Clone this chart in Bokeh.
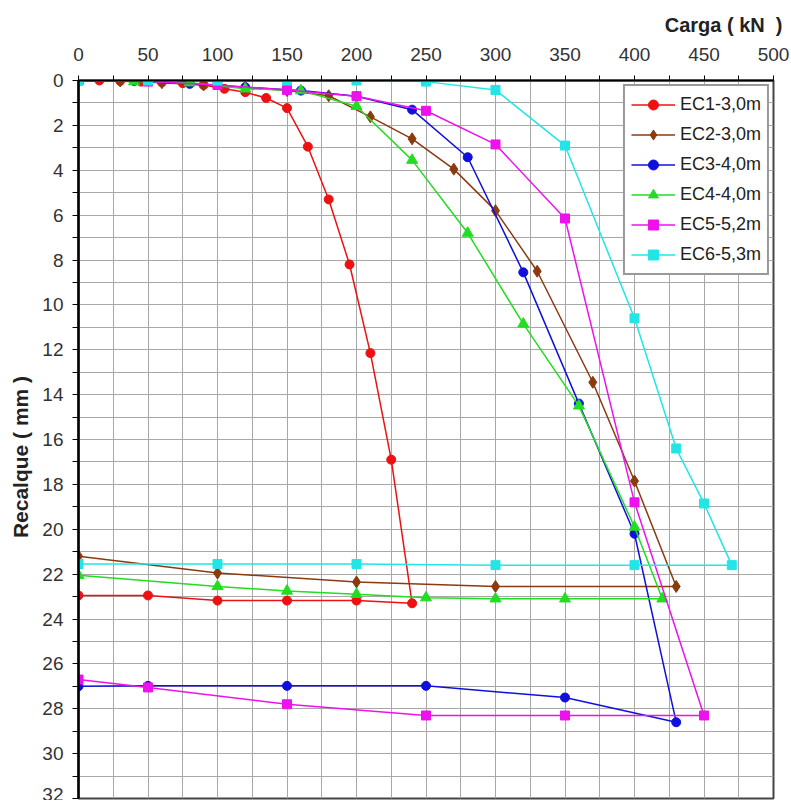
from bokeh.plotting import figure
from bokeh.models import Range1d, FixedTicker, ColumnDataSource, Legend, LegendItem, Title
from bokeh.embed import file_html
from bokeh.resources import INLINE

# ---- data (load kN, settlement mm), loading then unloading ----
ec1_load = [0, 15, 30, 45, 60, 75, 90, 105, 120, 135, 150, 165, 180, 195, 210, 225, 240, 200, 150, 100, 50, 0]
ec1_settle = [0, 0, 0.02, 0.05, 0.08, 0.12, 0.2, 0.37, 0.52, 0.78, 1.23, 2.95, 5.3, 8.2, 12.15, 16.9, 23.3, 23.18, 23.18, 23.18, 22.95, 22.95]

ec2_load = [0, 30, 60, 90, 120, 150, 180, 210, 240, 270, 300, 330, 370, 400, 430, 300, 200, 100, 0]
ec2_settle = [0, 0.02, 0.1, 0.2, 0.3, 0.45, 0.68, 1.62, 2.6, 3.95, 5.8, 8.5, 13.45, 17.85, 22.55, 22.55, 22.35, 21.95, 21.2]

ec3_load = [0, 40, 80, 120, 160, 200, 240, 280, 320, 360, 400, 430, 350, 250, 150, 50, 0]
ec3_settle = [0, 0.02, 0.15, 0.3, 0.45, 0.7, 1.3, 3.42, 8.55, 14.4, 20.2, 28.6, 27.5, 26.98, 26.98, 26.98, 27.0]

ec4_load = [0, 40, 80, 120, 160, 200, 240, 280, 320, 360, 400, 420, 350, 300, 250, 200, 150, 100, 0]
ec4_settle = [0, 0.05, 0.1, 0.37, 0.45, 1.15, 3.55, 6.8, 10.85, 14.5, 19.9, 23.1, 23.1, 23.1, 23.05, 22.9, 22.75, 22.55, 22.05]

ec5_load = [0, 50, 100, 150, 200, 250, 300, 350, 400, 450, 350, 250, 150, 50, 0]
ec5_settle = [0, 0.05, 0.2, 0.42, 0.7, 1.35, 2.85, 6.15, 18.8, 28.3, 28.3, 28.3, 27.8, 27.05, 26.7]

ec6_load = [0, 50, 100, 150, 200, 250, 300, 350, 400, 430, 450, 470, 400, 300, 200, 100, 0]
ec6_settle = [0, 0, 0, 0, 0, 0.05, 0.42, 2.9, 10.6, 16.4, 18.85, 21.6, 21.6, 21.6, 21.55, 21.55, 21.55]

series_names = ["EC1-3,0m", "EC2-3,0m", "EC3-4,0m", "EC4-4,0m", "EC5-5,2m", "EC6-5,3m"]

x_ticks = [0, 50, 100, 150, 200, 250, 300, 350, 400, 450, 500]
x_minor = [25, 75, 125, 175, 225, 275, 325, 375, 425, 475]
y_ticks = [0, 2, 4, 6, 8, 10, 12, 14, 16, 18, 20, 22, 24, 26, 28, 30, 32]
y_minor = [1, 3, 5, 7, 9, 11, 13, 15, 17, 19, 21, 23, 25, 27, 29, 31]

x_title = "Carga ( kN\u00a0 )"
y_title = "Recalque ( mm )" + "\u00a0" * 6

FONT = "Liberation Sans"

p = figure(width=791, height=800, x_range=Range1d(0, 500), y_range=Range1d(32, 0),
           x_axis_location="above", output_backend="svg", toolbar_location=None,
           min_border_left=78, min_border_right=18, min_border_top=80, min_border_bottom=2,
           background_fill_color="white", border_fill_color="white")

p.title = Title(text=x_title, align="right", offset=-9, standoff=17,
                text_font=FONT, text_font_size="20px", text_font_style="bold",
                text_color="#222222")

p.xaxis.ticker = FixedTicker(ticks=x_ticks, minor_ticks=x_minor)
p.yaxis.ticker = FixedTicker(ticks=y_ticks, minor_ticks=y_minor)

for ax in (p.xaxis, p.yaxis):
    ax.major_label_text_font = FONT
    ax.major_label_text_font_size = "19px"
    ax.major_label_text_color = "#333333"
    ax.axis_line_color = "black"
    ax.major_tick_line_color = "black"
    ax.minor_tick_line_color = "black"
    ax.major_tick_in = 0
    ax.minor_tick_in = 0

p.xaxis.axis_line_width = 2
p.xaxis.major_tick_out = 5
p.xaxis.minor_tick_out = 5
p.xaxis.major_label_standoff = 15

p.yaxis.axis_line_width = 2.5
p.yaxis.major_tick_out = 6
p.yaxis.minor_tick_out = 6
p.yaxis.major_label_standoff = 9
p.yaxis.axis_label = y_title
p.yaxis.axis_label_text_font = FONT
p.yaxis.axis_label_text_font_size = "21px"
p.yaxis.axis_label_text_font_style = "bold"
p.yaxis.axis_label_text_color = "#222222"
p.yaxis.axis_label_standoff = 7

for g in (p.xgrid, p.ygrid):
    g.grid_line_color = "#a8a8a8"
    g.grid_line_width = 1
    g.minor_grid_line_color = "#a8a8a8"
    g.minor_grid_line_width = 1

p.outline_line_color = "#444444"
p.outline_line_width = 2

loads = [ec1_load, ec2_load, ec3_load, ec4_load, ec5_load, ec6_load]
settles = [ec1_settle, ec2_settle, ec3_settle, ec4_settle, ec5_settle, ec6_settle]
colors = ["#ee1111", "#8b3a10", "#1010dd", "#22dd22", "#ee11ee", "#22e6e6"]
markers = ["circle", "diamond", "circle", "triangle", "square", "square"]
sizes = [9, 12, 9, 11, 9, 9]

items = []
for name, xs, ys, c, m, s in zip(series_names, loads, settles, colors, markers, sizes):
    src = ColumnDataSource(dict(x=xs, y=ys))
    ln = p.line("x", "y", source=src, line_color=c, line_width=1.5)
    sc = p.scatter("x", "y", source=src, marker=m, size=s, fill_color=c, line_color=c)
    items.append(LegendItem(label=name, renderers=[ln, sc]))

legend = Legend(items=items, location="top_right")
legend.label_text_font = FONT
legend.label_text_font_size = "18px"
legend.label_text_color = "#222222"
legend.border_line_color = "#333333"
legend.border_line_width = 2
legend.background_fill_color = "white"
legend.background_fill_alpha = 1
legend.glyph_width = 44
legend.glyph_height = 25
legend.label_height = 25
legend.label_standoff = 5
legend.spacing = 5
legend.padding = 6
legend.margin = 4
p.add_layout(legend)

open("out.html", "w").write(file_html(p, INLINE))
